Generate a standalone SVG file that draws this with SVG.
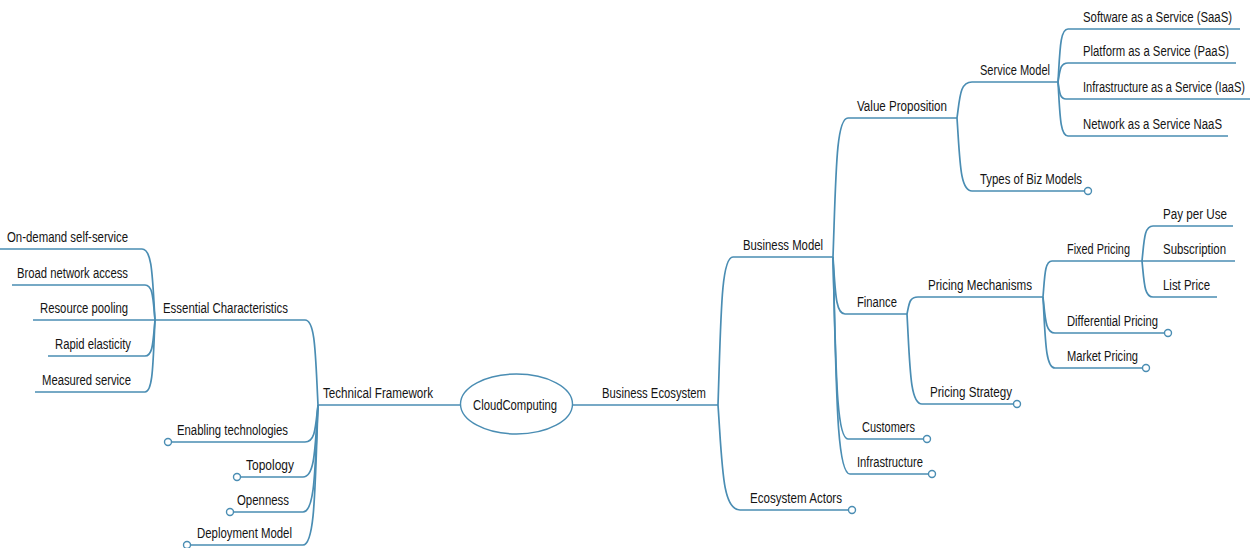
<svg xmlns="http://www.w3.org/2000/svg" width="1255" height="548" viewBox="0 0 1255 548">
<style>
.c{fill:none;stroke:#4a8db3;stroke-width:1.7}
.t{font-family:"Liberation Sans",Arial,sans-serif;font-size:14px;fill:#141414}
.k{fill:#fff;stroke:#4a8db3;stroke-width:1.4}
</style>
<rect width="1255" height="548" fill="#fff"/>
<g id="connectors">
<path class="c" d="M318,405 H461"/>
<path class="c" d="M572,405 H718"/>
<path class="c" d="M318,405 C315.4,354 315.4,320 305,320 H155"/>
<path class="c" d="M155,320 C152.4,277.4 152.4,249 142,249 H0"/>
<path class="c" d="M155,320 C153,299 153,285 145,285 H12"/>
<path class="c" d="M155,320 H33"/>
<path class="c" d="M155,320 C153,341.6 153,356 145,356 H48"/>
<path class="c" d="M155,320 C153,363.2 153,392 145,392 H35"/>
<path class="c" d="M318,405 C315.4,427 315.4,442 305,442 H171.5"/>
<path class="c" d="M318,405 C315,448 315,477 303,477 H240.5"/>
<path class="c" d="M318,405 C315,469 315,512 303,512 H233.5"/>
<path class="c" d="M318,405 C315,489 315,545 303,545 H190.5"/>
<path class="c" d="M718,405 C721,316 721,257 733,257 H833"/>
<path class="c" d="M718,405 C722.4,468 722.4,510 740,510 H848.5"/>
<path class="c" d="M833,257 C836,173.6 836,118 848,118 H957"/>
<path class="c" d="M957,118 C960,96.4 960,82 972,82 H1058"/>
<path class="c" d="M1058,82 C1060,50.2 1060,29 1068,29 H1240"/>
<path class="c" d="M1058,82 C1060,70.6 1060,63 1068,63 H1236"/>
<path class="c" d="M1058,82 C1059.6,92 1059.6,99 1066,99 H1250"/>
<path class="c" d="M1058,82 C1060,114.4 1060,136 1068,136 H1228"/>
<path class="c" d="M957,118 C960,161.8 960,191 972,191 H1084.5"/>
<path class="c" d="M833,257 C835.4,291.2 835.4,314 845,314 H907"/>
<path class="c" d="M907,314 C909.2,303.8 909.2,297 918,297 H1043"/>
<path class="c" d="M1043,297 C1044.8,275.4 1044.8,261 1052,261 H1142"/>
<path class="c" d="M1142,261 C1144.2,240 1144.2,226 1153,226 H1233"/>
<path class="c" d="M1142,261 H1235"/>
<path class="c" d="M1142,261 C1144.2,282.6 1144.2,297 1153,297 H1217"/>
<path class="c" d="M1043,297 C1045.4,318.6 1045.4,333 1055,333 H1164.5"/>
<path class="c" d="M1043,297 C1045.4,339.6 1045.4,368 1055,368 H1142.5"/>
<path class="c" d="M907,314 C910,368 910,404 922,404 H1013.5"/>
<path class="c" d="M833,257 C836,366.2 836,439 848,439 H923.5"/>
<path class="c" d="M833,257 C836.4,387.2 836.4,474 850,474 H928.5"/>
</g>
<g id="root"><ellipse class="k" cx="516.5" cy="404" rx="56" ry="30" stroke-width="1.6"/><text class="t" x="473" y="410" textLength="84" lengthAdjust="spacingAndGlyphs">CloudComputing</text></g>
<g id="technical-framework"><text class="t" x="323" y="398" textLength="110" lengthAdjust="spacingAndGlyphs">Technical Framework</text></g>
<g id="essential-characteristics"><text class="t" x="163" y="313" textLength="125" lengthAdjust="spacingAndGlyphs">Essential Characteristics</text></g>
<g id="on-demand"><text class="t" x="7" y="242" textLength="121" lengthAdjust="spacingAndGlyphs">On-demand self-service</text></g>
<g id="broad-network"><text class="t" x="17" y="278" textLength="111" lengthAdjust="spacingAndGlyphs">Broad network access</text></g>
<g id="resource-pooling"><text class="t" x="40" y="313" textLength="88" lengthAdjust="spacingAndGlyphs">Resource pooling</text></g>
<g id="rapid-elasticity"><text class="t" x="55" y="349" textLength="76" lengthAdjust="spacingAndGlyphs">Rapid elasticity</text></g>
<g id="measured-service"><text class="t" x="42" y="385" textLength="89" lengthAdjust="spacingAndGlyphs">Measured service</text></g>
<g id="enabling-technologies"><text class="t" x="177" y="435" textLength="111" lengthAdjust="spacingAndGlyphs">Enabling technologies</text><circle class="k" cx="168" cy="442" r="3.5"/></g>
<g id="topology"><text class="t" x="246" y="470" textLength="48" lengthAdjust="spacingAndGlyphs">Topology</text><circle class="k" cx="237" cy="477" r="3.5"/></g>
<g id="openness"><text class="t" x="237" y="505" textLength="52" lengthAdjust="spacingAndGlyphs">Openness</text><circle class="k" cx="230" cy="512" r="3.5"/></g>
<g id="deployment-model"><text class="t" x="197" y="538" textLength="95" lengthAdjust="spacingAndGlyphs">Deployment Model</text><circle class="k" cx="187" cy="545" r="3.5"/></g>
<g id="business-ecosystem"><text class="t" x="602" y="398" textLength="104" lengthAdjust="spacingAndGlyphs">Business Ecosystem</text></g>
<g id="business-model"><text class="t" x="743" y="250" textLength="80" lengthAdjust="spacingAndGlyphs">Business Model</text></g>
<g id="value-proposition"><text class="t" x="857" y="111" textLength="90" lengthAdjust="spacingAndGlyphs">Value Proposition</text></g>
<g id="service-model"><text class="t" x="980" y="75" textLength="70" lengthAdjust="spacingAndGlyphs">Service Model</text></g>
<g id="saas"><text class="t" x="1083" y="22" textLength="149" lengthAdjust="spacingAndGlyphs">Software as a Service (SaaS)</text></g>
<g id="paas"><text class="t" x="1083" y="56" textLength="146" lengthAdjust="spacingAndGlyphs">Platform as a Service (PaaS)</text></g>
<g id="iaas"><text class="t" x="1083" y="92" textLength="162" lengthAdjust="spacingAndGlyphs">Infrastructure as a Service (IaaS)</text></g>
<g id="naas"><text class="t" x="1083" y="129" textLength="139" lengthAdjust="spacingAndGlyphs">Network as a Service NaaS</text></g>
<g id="types-of-biz-models"><text class="t" x="980" y="184" textLength="102" lengthAdjust="spacingAndGlyphs">Types of Biz Models</text><circle class="k" cx="1088" cy="191" r="3.5"/></g>
<g id="finance"><text class="t" x="857" y="307" textLength="40" lengthAdjust="spacingAndGlyphs">Finance</text></g>
<g id="pricing-mechanisms"><text class="t" x="928" y="290" textLength="104" lengthAdjust="spacingAndGlyphs">Pricing Mechanisms</text></g>
<g id="fixed-pricing"><text class="t" x="1067" y="254" textLength="63" lengthAdjust="spacingAndGlyphs">Fixed Pricing</text></g>
<g id="pay-per-use"><text class="t" x="1163" y="219" textLength="64" lengthAdjust="spacingAndGlyphs">Pay per Use</text></g>
<g id="subscription"><text class="t" x="1163" y="254" textLength="63" lengthAdjust="spacingAndGlyphs">Subscription</text></g>
<g id="list-price"><text class="t" x="1163" y="290" textLength="47" lengthAdjust="spacingAndGlyphs">List Price</text></g>
<g id="differential-pricing"><text class="t" x="1067" y="326" textLength="91" lengthAdjust="spacingAndGlyphs">Differential Pricing</text><circle class="k" cx="1168" cy="333" r="3.5"/></g>
<g id="market-pricing"><text class="t" x="1067" y="361" textLength="71" lengthAdjust="spacingAndGlyphs">Market Pricing</text><circle class="k" cx="1146" cy="368" r="3.5"/></g>
<g id="pricing-strategy"><text class="t" x="930" y="397" textLength="82" lengthAdjust="spacingAndGlyphs">Pricing Strategy</text><circle class="k" cx="1017" cy="404" r="3.5"/></g>
<g id="customers"><text class="t" x="862" y="432" textLength="53" lengthAdjust="spacingAndGlyphs">Customers</text><circle class="k" cx="927" cy="439" r="3.5"/></g>
<g id="infrastructure"><text class="t" x="857" y="467" textLength="66" lengthAdjust="spacingAndGlyphs">Infrastructure</text><circle class="k" cx="932" cy="474" r="3.5"/></g>
<g id="ecosystem-actors"><text class="t" x="750" y="503" textLength="92" lengthAdjust="spacingAndGlyphs">Ecosystem Actors</text><circle class="k" cx="852" cy="510" r="3.5"/></g>
</svg>
